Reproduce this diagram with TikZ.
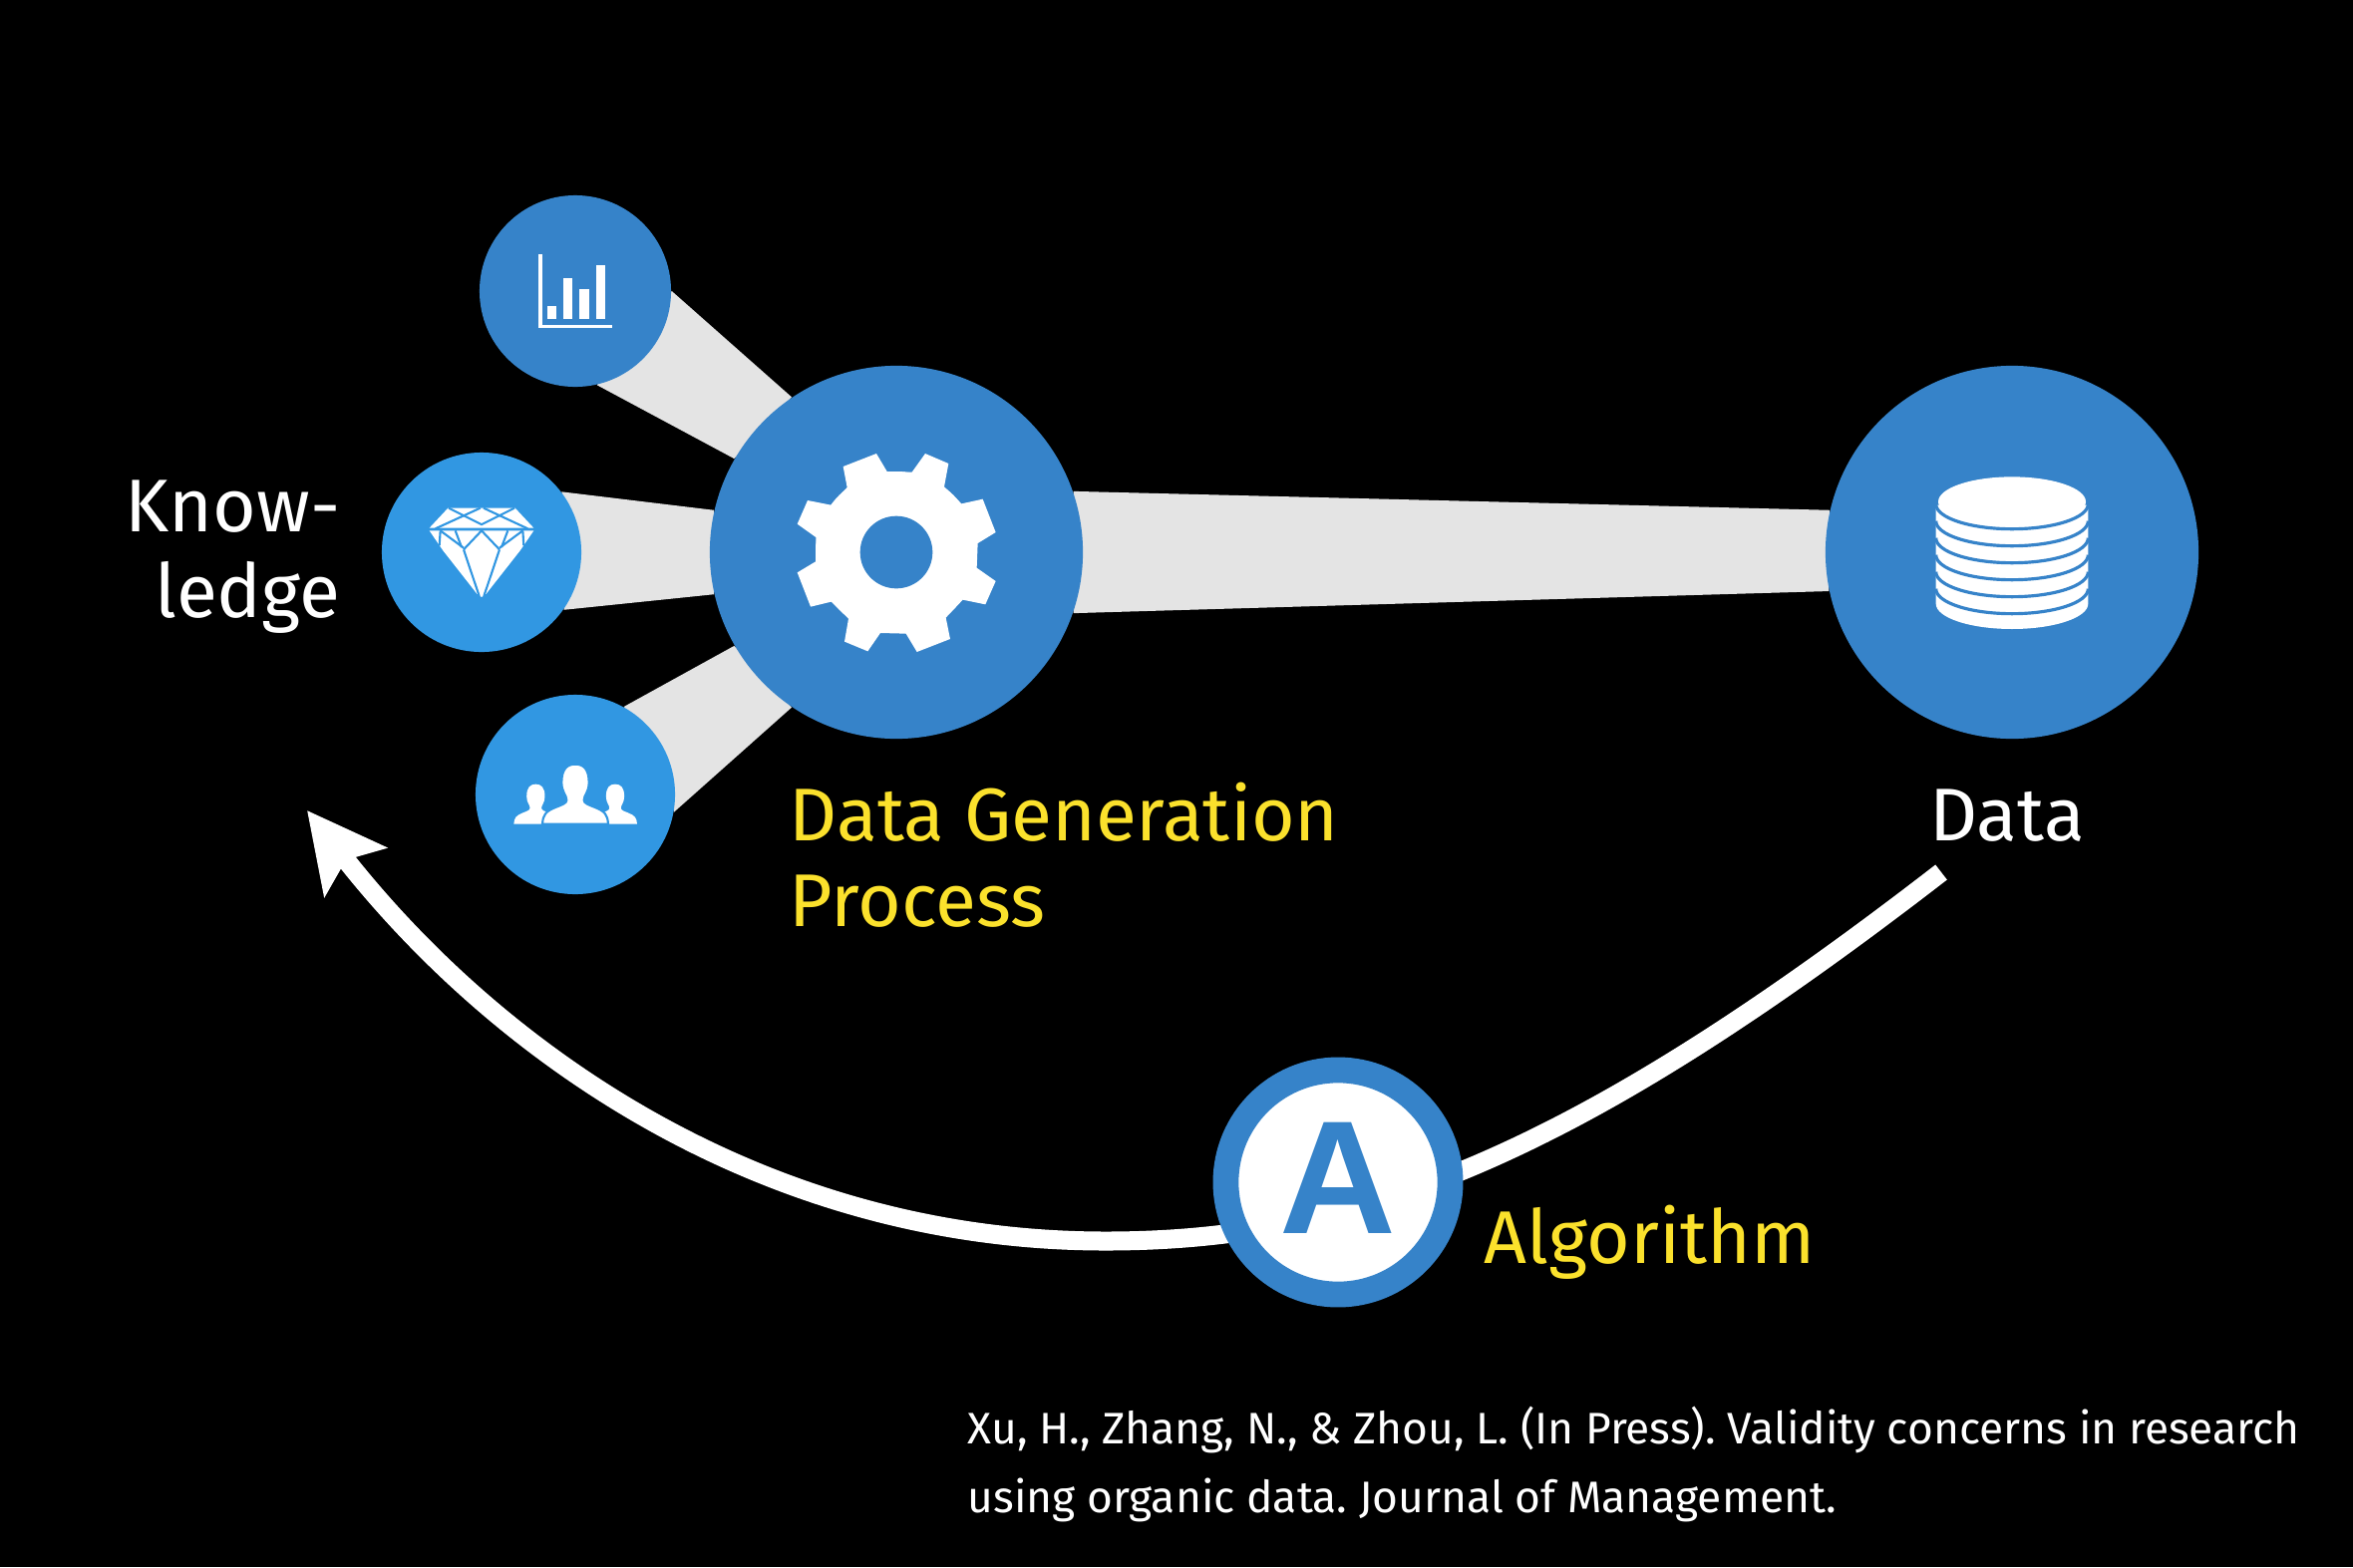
\documentclass[tikz,border=0pt]{standalone}
\usepackage{fontspec}
\setmainfont{Fira Sans}
\newfontfamily\letterfont{Liberation Sans}
\usetikzlibrary{arrows.meta,backgrounds}
\definecolor{hubblue}{HTML}{3683C9}
\definecolor{leafblue}{HTML}{3197E2}
\definecolor{wedgegrey}{HTML}{E4E4E4}
\definecolor{titleyellow}{HTML}{FBE12C}
\tikzset{
  hub/.style    = {circle, fill=hubblue, inner sep=0pt, minimum size=3.74cm},
  leaf/.style   = {circle, inner sep=0pt, minimum size=2cm},
  wedge/.style  = {fill=wedgegrey},
  flow/.style   = {-{Stealth[length=0.78cm,width=0.78cm,inset=0.15cm]}, white, line width=0.19cm},
  title/.style  = {font=\frenchspacing\fontsize{21.3}{24.4}\selectfont, align=left, inner sep=0pt},
  source/.style = {font=\frenchspacing\fontsize{12.6}{19.6}\selectfont, align=left, inner sep=0pt, white},
}
% one figure of the people icon, origin at the middle of its base
\newcommand{\personshape}{(-99,0) .. controls (-97,-30) and (-88,-38) .. (-60,-50)
  .. controls (-40,-58) and (-26,-62) .. (-26,-72) .. controls (-26,-88) and (-41,-95) .. (-41,-125)
  .. controls (-41,-165) and (-25,-180) .. (0,-180) .. controls (25,-180) and (41,-165) .. (41,-125)
  .. controls (41,-95) and (26,-88) .. (26,-72) .. controls (26,-62) and (40,-58) .. (60,-50)
  .. controls (88,-38) and (97,-30) .. (99,0) -- cycle}

\begin{document}
\begin{tikzpicture}[x=0.01cm,y=-0.01cm]
\useasboundingbox (0,0) rectangle (2360,1572);
\node[hub] (gear) at (899,554) {};
\node[hub] (data) at (2018,554) {};
\node[leaf,fill=hubblue,minimum size=1.92cm] (chart) at (577,292) {};
\node[leaf,fill=leafblue] (gem) at (483,554) {};
\node[leaf,fill=leafblue] (people) at (577,797) {};
\node[circle,fill=white,draw=hubblue,line width=0.258cm,inner sep=0pt,minimum size=2.25cm,
  text=hubblue,text depth=0.08cm,font=\letterfont\bfseries\fontsize{46}{46}\selectfont] (algo) at (1342,1186) {A};
\coordinate (dataend) at (1947,875);
\coordinate (lowest) at (1109,1245);
\coordinate (knowend) at (308,813);
% wedges and the long arrow go under the circles
\begin{scope}[on background layer]
\fill[black] (0,0) rectangle (2360,1572);
\fill[wedge] (chart.0) -- (gear.124) -- (gear.150) -- (chart.283) -- cycle;
\fill[wedge] (gem.37) -- (gear.167) -- (gear.193) -- (gem.-35) -- cycle;
\fill[wedge] (people.61) -- (gear.210) -- (gear.236) -- (people.-10) -- cycle;
\fill[wedge] (gear.19) -- (data.167.6) -- (data.192.4) -- (gear.-19) -- cycle;
\draw[flow] (dataend) .. controls (1576,1162) and (1359,1245) .. (lowest)
  .. controls (759,1245) and (494,1050) .. (knowend);
\end{scope}
% gear icon
\begin{scope}[shift={(gear.center)},scale=0.3333]
\fill[white] (0,0) circle (243);
\fill[white] (-28,-243) -- (47,-241) -- (87,-297) -- (157,-267) -- (144,-197) -- (196,-146)
  -- (260,-160) -- (299,-60) -- (245,-27) -- (242,47) -- (299,87) -- (268,157) -- (200,143)
  -- (149,197) -- (162,261) -- (62,300) -- (29,245) -- (-48,243) -- (-86,298) -- (-156,269)
  -- (-144,200) -- (-196,149) -- (-258,164) -- (-298,61) -- (-243,28) -- (-242,-45) -- (-298,-85)
  -- (-267,-156) -- (-196,-142) -- (-148,-195) -- (-160,-258) -- (-60,-297) -- cycle;
\fill[hubblue] (0,0) circle (109);
\end{scope}
% database icon
\begin{scope}[shift={(data.center)},scale=0.3333]
\fill[white] (-229,-142) -- (-229,155) arc[start angle=180,end angle=0,x radius=229,y radius=76] -- (229,-142) -- cycle;
\foreach \k in {0,...,5}
  \draw[hubblue,line width=0.9pt] (-229,-145+51*\k) arc[start angle=180,end angle=0,x radius=229,y radius=75];
\fill[white] (0,-152) ellipse [x radius=222,y radius=75];
\end{scope}
% chart icon
\begin{scope}[shift={(chart.center)},scale=0.3333]
\fill[white] (-111,-111) rectangle (-99,111);
\fill[white] (-111,103) rectangle (111,111);
\foreach \xa/\xb/\ytop in {-84/-57/45,-36/-9/-39,12/42/-6,63/90/-78}
  \fill[white] (\xa,\ytop) rectangle (\xb,84);
\end{scope}
% diamond icon
\begin{scope}[shift={(gem.center)},scale=0.3333]
\fill[white] (-157,-73) -- (-101,-133) -- (101,-133) -- (157,-73) -- cycle;
\fill[white] (-157,-65) -- (157,-65) -- (116,-5) -- (14,125) -- (0,135) -- (-14,125) -- (-116,-5) -- cycle;
\foreach \xa/\ya/\xb/\yb in {-99/-133/1/-83,-4/-133/-139/-71,6/-133/139/-71,99/-133/-1/-83,
  -124/-65/-127/-20,124/-65/127/-20,-124/-65/-54/-13,124/-65/54/-13,-79/-65/-60/-15,79/-65/60/-15,
  0/-65/-54/-8,0/-65/54/-8,-54/-8/-7/132,54/-8/7/132}
  \draw[leafblue,line width=0.6pt] (\xa,\ya) -- (\xb,\yb);
\draw[leafblue,line width=0.7pt] (-165,-69) -- (165,-69);
\end{scope}
% people icon
\begin{scope}[shift={(people.center)},scale=0.3333]
\foreach \dx in {-119,120}
  \fill[white,shift={(\dx,89)},scale=0.667] \personshape;
\fill[white,draw=leafblue,line width=0.6pt,shift={(0,89)}] \personshape;
\end{scope}
% labels
\node[title,white,align=right,anchor=east] (know) at (342,559) {Know-\\ledge};
\node[title,titleyellow,anchor=west] (process) at (791,858) {Data Generation\\Process};
\node[title,white] (datalabel) at (2013,818) {Data};
\node[title,titleyellow,anchor=west] (algolabel) at (1488,1246) {Algorithm};
\node[source,anchor=west] (cite) at (970,1469) {Xu, H., Zhang, N., \& Zhou, L. (In Press). Validity concerns in research\\using organic data. Journal of Management.};
\end{tikzpicture}
\end{document}
